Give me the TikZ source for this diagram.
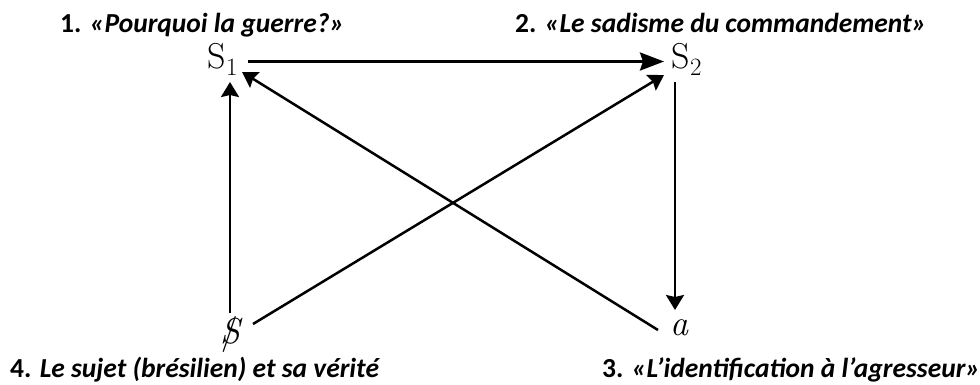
\documentclass[tikz,border=0pt]{standalone}
\usepackage{fontspec}
\newfontfamily\capfont{Carlito}
\usetikzlibrary{arrows.meta,calc}
% barred subject: an italic S crossed by a slash
\newcommand{\barredS}{\ooalign{\itshape S\cr\hidewidth/\hidewidth}}
\begin{document}
\begin{tikzpicture}[x=1pt,y=-1pt,
  sym/.style={inner sep=0pt,anchor=base,font=\fontsize{36}{36}\selectfont},
  caption/.style={inner sep=0pt,anchor=base west,font=\capfont\fontsize{27.5}{28}\selectfont\bfseries},
  link/.style={line width=2.5pt,-{Stealth[length=15pt,width=18pt,inset=2pt]}},
  biglink/.style={line width=2.8pt,-{Stealth[length=24pt,width=18pt,inset=3pt]}}]
\useasboundingbox[fill=white] (0,0) rectangle (980,384);

% the four places of the discourse
\node[sym] (S1) at (223,68) {$\mathrm{S}_1$};
\node[sym] (S2) at (687,68) {$\mathrm{S}_2$};
\node[sym] (Sb) at (230,343) {\barredS};
\node[sym] (a)  at (679,335) {\itshape a};

% captions
\node[caption] (c1) at (60,32)  {1. \textit{«Pourquoi la guerre?»}};
\node[caption] (c2) at (515,32) {2. \textit{«Le sadisme du commandement»}};
\node[caption] (c4) at (10,377) {4. \textit{Le sujet (brésilien) et sa vérité}};
\node[caption] (c3) at (602,377) {3. \textit{«L’identification à l’agresseur»}};

% connectors
\draw[biglink] ($(S1.base)+(25,-6.5)$) -- ($(S2.base)+(-23,-6.5)$);
\draw[link] ($(Sb.base)+(0,-30)$) -- ($(S1.base)+(7,14)$);
\draw[link] ($(a.base)+(-21,-5)$) -- ($(S1.base)+(19,4)$);
\draw[link] ($(Sb.base)+(23,-19)$) -- ($(S2.base)+(-23,7)$);
\draw[link] ($(S2.base)+(-12,14)$) -- ($(a.base)+(-4,-25)$);
\end{tikzpicture}
\end{document}
